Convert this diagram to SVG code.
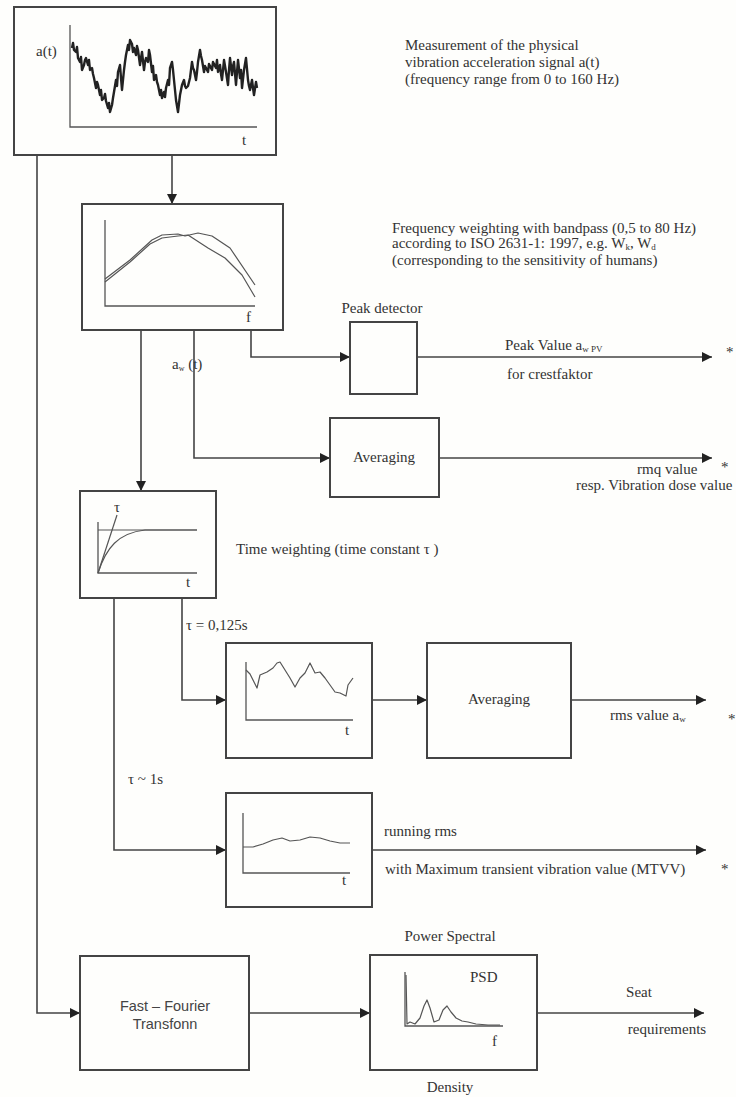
<svg xmlns="http://www.w3.org/2000/svg" width="736" height="1097" viewBox="0 0 736 1097">
<defs>
<marker id="ah" viewBox="0 0 10 10" refX="10" refY="5" markerWidth="10" markerHeight="10" markerUnits="userSpaceOnUse" orient="auto">
<path d="M0,0 L10,5 L0,10 z" fill="#222"/>
</marker>
<style>
.box{fill:none;stroke:#444;stroke-width:2}
.ax{fill:none;stroke:#555;stroke-width:1.3}
.sig{fill:none;stroke:#555;stroke-width:1.2;stroke-linejoin:round}
.con{fill:none;stroke:#444;stroke-width:1.6;marker-end:url(#ah)}
.t{font-family:"Liberation Serif",serif;font-size:15px;fill:#333}
.s{font-family:"Liberation Sans",sans-serif;font-size:14.5px;fill:#444}
.m{text-anchor:middle}
</style>
</defs>
<rect width="736" height="1097" fill="#fefefc"/>

<g id="connectors">
<path class="con" d="M172,155 V204"/>
<path class="con" d="M37,155 V1013 H80"/>
<path class="con" d="M251,330 V357 H350"/>
<path class="con" d="M417,357 H712"/>
<path class="con" d="M194,330 V458 H330"/>
<path class="con" d="M439,458 H712"/>
<path class="con" d="M141,330 V491"/>
<path class="con" d="M182,598 V700 H226"/>
<path class="con" d="M372,700 H427"/>
<path class="con" d="M571,700 H706"/>
<path class="con" d="M114,598 V850 H226"/>
<path class="con" d="M372,850 H706"/>
<path class="con" d="M249,1013 H370"/>
<path class="con" d="M537,1013 H704"/>
</g>

<g id="measurement">
<rect class="box" x="14" y="7" width="262" height="148"/>
<path class="ax" d="M70,25 V127 H257"/>
<polyline fill="none" stroke="#222" stroke-width="2.4" stroke-linejoin="round" points="72,48 73,43 74,50 76,52 77,47 78,58 80,62 81,57 82,70 84,65 85,60 86,58 88,65 89,60 90,70 92,68 93,74 94,78 96,88 97,82 98,85 100,95 101,90 102,100 104,98 105,94 106,101 108,108 109,103 110,112 112,105 113,98 114,92 116,80 117,86 118,72 120,65 121,78 122,90 124,70 125,62 126,55 128,45 129,50 130,40 132,44 133,52 134,48 136,55 137,46 138,50 140,65 141,58 142,52 144,70 145,62 146,58 148,62 149,50 150,55 152,72 153,66 154,80 156,75 157,82 158,85 160,95 161,90 162,98 164,92 165,97 166,88 168,80 169,85 170,68 172,62 173,70 174,80 176,100 177,106 178,112 180,95 181,90 182,85 184,80 185,86 186,88 188,86 189,82 190,78 192,62 193,68 194,70 196,80 197,72 198,62 200,50 201,56 202,60 204,72 205,66 206,68 208,72 209,64 210,66 212,70 213,62 214,64 216,68 217,60 218,72 220,65 221,74 222,80 224,60 225,66 226,72 228,85 229,70 230,58 232,75 233,66 234,62 236,85 237,72 238,60 240,78 241,70 242,88 244,70 245,64 246,58 248,80 249,86 250,90 252,80 253,88 254,95 256,82 257,88"/>
<text class="t" x="36" y="56" font-size="11">a(t)</text>
<text class="t" x="242" y="145" font-size="12">t</text>
</g>
<g id="measurement-label">
<text class="t" x="405" y="50">Measurement of the physical</text>
<text class="t" x="405" y="67">vibration acceleration  signal a(t)</text>
<text class="t" x="405" y="84">(frequency range from 0 to 160 Hz)</text>
</g>

<g id="frequency-weighting">
<rect class="box" x="82" y="204" width="201" height="126"/>
<path class="ax" d="M105,220 V306 H255"/>
<path class="sig" d="M105,282 L130,262 L150,244 L162,238 L178,236 L188,235 L208,248 L225,258 L242,275 L255,297"/>
<path class="sig" d="M105,279 L130,260 L152,240 L162,235 L178,234 L185,236 L198,233 L212,236 L230,248 L255,285"/>
<text class="t" x="246" y="322" font-size="12">f</text>
</g>
<g id="frequency-weighting-label">
<text class="t" x="392" y="233">Frequency weighting with bandpass (0,5 to 80 Hz)</text>
<text class="t" x="392" y="248">according to ISO 2631-1: 1997,  e.g. W<tspan font-size="9" dy="2">k</tspan><tspan dy="-2">, W</tspan><tspan font-size="9" dy="2">d</tspan></text>
<text class="t" x="392" y="265">(corresponding to the sensitivity of humans)</text>
</g>

<g id="peak-detector">
<rect class="box" x="350" y="322" width="67" height="72"/>
<text class="t m" x="382" y="313">Peak detector</text>
</g>
<g id="peak-value-label">
<text class="t" x="505" y="350">Peak Value  a<tspan font-size="9" dy="2">w PV</tspan></text>
<text class="t" x="507" y="379">for crestfaktor</text>
<text class="t" x="726" y="357">*</text>
</g>

<text class="t" x="172" y="369" font-size="13">a<tspan font-size="8" dy="2">w</tspan><tspan dy="-2"> (t)</tspan></text>

<g id="averaging-1">
<rect class="box" x="330" y="418" width="109" height="79"/>
<text class="t m" x="384" y="462" font-size="14.5">Averaging</text>
</g>
<g id="rmq-label">
<text class="t" x="637" y="474">rmq value</text>
<text class="t" x="721" y="472">*</text>
<text class="t" x="576" y="490">resp. Vibration dose value</text>
</g>

<g id="time-weighting">
<rect class="box" x="80" y="491" width="136" height="107"/>
<path class="ax" d="M98,522 V573 H197"/>
<path class="sig" d="M98,530 H197"/>
<path class="sig" stroke="#333" stroke-width="1.6" d="M98,573 C106,548 118,533 145,530 L197,530"/>
<path class="sig" d="M98,573 L117,515"/>
<text class="t" x="114" y="512" font-size="10">τ</text>
<text class="t" x="186" y="587" font-size="10">t</text>
</g>
<text class="t" x="236" y="554">Time weighting (time constant τ )</text>

<text class="t" x="186" y="630" font-size="14">τ = 0,125s</text>

<g id="rms-signal">
<rect class="box" x="226" y="643" width="146" height="115"/>
<path class="ax" d="M246,662 V720 H353"/>
<polyline class="sig" points="246,670 250,674 254,682 257,688 260,675 267,672 273,668 277,663 280,662 285,670 290,678 295,687 300,678 305,673 310,663 315,673 320,672 325,678 330,685 335,692 340,693 346,696 348,685 353,678"/>
<text class="t" x="345" y="735" font-size="11">t</text>
</g>

<g id="averaging-2">
<rect class="box" x="427" y="643" width="144" height="115"/>
<text class="t m" x="499" y="704" font-size="14.5">Averaging</text>
</g>
<g id="rms-label">
<text class="t" x="610" y="720">rms value a<tspan font-size="9" dy="2">w</tspan></text>
<text class="t" x="728" y="724">*</text>
</g>

<text class="t" x="128" y="784" font-size="14">τ ~ 1s</text>

<g id="running-rms">
<rect class="box" x="226" y="793" width="146" height="114"/>
<path class="ax" d="M243,813 V873 H350"/>
<polyline class="sig" points="243,847 253,847 263,844 273,840 282,838 290,841 300,840 310,837 320,838 330,841 340,843 350,843"/>
<text class="t" x="342" y="885" font-size="11">t</text>
</g>
<g id="running-rms-label">
<text class="t" x="384" y="836">running rms</text>
<text class="t" x="385" y="874">with Maximum transient vibration value (MTVV)</text>
<text class="t" x="721" y="874">*</text>
</g>

<g id="fft">
<rect class="box" x="80" y="956" width="169" height="114"/>
<text class="s m" x="165" y="1011">Fast – Fourier</text>
<text class="s m" x="165" y="1029">Transfonn</text>
</g>

<g id="psd">
<rect class="box" x="370" y="955" width="167" height="115"/>
<path class="ax" d="M405,972 V1026 H503"/>
<polyline class="sig" points="406,975 407,1024 410,1022 415,1024 420,1018 424,1006 427,1000 430,1008 434,1022 439,1020 443,1010 447,1006 451,1012 456,1018 462,1021 468,1022 476,1024 488,1025 500,1025"/>
<text class="t" x="470" y="982">PSD</text>
<text class="t" x="492" y="1046" font-size="11">f</text>
<text class="t m" x="450" y="941">Power Spectral</text>
<text class="t m" x="450" y="1092">Density</text>
</g>
<g id="seat-label">
<text class="t m" x="639" y="997">Seat</text>
<text class="t m" x="667" y="1034">requirements</text>
</g>
</svg>
